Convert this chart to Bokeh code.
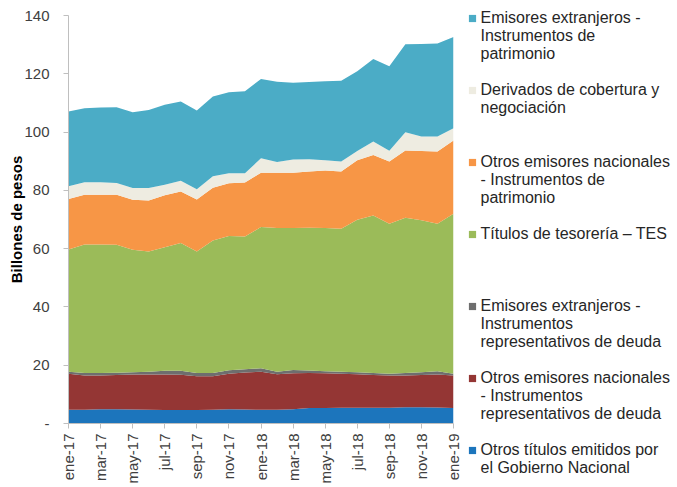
from bokeh.plotting import figure
from bokeh.models import Range1d, FixedTicker, ColumnDataSource, Legend, LegendItem
from bokeh.embed import file_html
from bokeh.resources import INLINE

months = ["ene-17", "feb-17", "mar-17", "abr-17", "may-17", "jun-17", "jul-17", "ago-17",
          "sep-17", "oct-17", "nov-17", "dic-17", "ene-18", "feb-18", "mar-18", "abr-18",
          "may-18", "jun-18", "jul-18", "ago-18", "sep-18", "oct-18", "nov-18", "dic-18", "ene-19"]

otros_titulos_gob = [4.7, 4.7, 4.9, 4.9, 4.8, 4.7, 4.6, 4.6, 4.6, 4.7, 4.9, 4.8, 4.7, 4.7, 4.9,
                     5.3, 5.3, 5.4, 5.4, 5.4, 5.4, 5.6, 5.6, 5.5, 5.3]
otros_nac_deuda = [12.4, 11.8, 11.6, 11.7, 12.0, 12.1, 12.2, 12.1, 11.6, 11.5, 12.2, 12.7, 13.1,
                   12.2, 12.3, 12.0, 11.9, 11.7, 11.5, 11.2, 11.1, 10.9, 11.0, 11.3, 11.2]
ext_deuda = [0.7, 0.8, 0.8, 0.8, 0.8, 1.0, 1.3, 1.4, 1.1, 1.1, 1.2, 1.1, 1.2, 0.9, 1.2, 0.9, 0.7,
             0.7, 0.7, 0.7, 0.6, 0.8, 1.0, 1.1, 0.6]
tes = [41.9, 44.1, 44.1, 43.9, 42.0, 41.2, 42.4, 43.8, 41.7, 45.5, 46.0, 45.6, 48.4, 49.3, 48.7,
       49.0, 49.2, 49.0, 52.3, 54.1, 51.4, 53.3, 52.1, 50.6, 54.9]
otros_nac_patr = [17.3, 17.1, 17.1, 17.2, 17.2, 17.5, 17.8, 17.7, 17.9, 18.1, 18.1, 18.5, 18.6,
                  18.9, 18.9, 19.3, 19.7, 19.7, 20.4, 20.7, 21.4, 23.1, 23.8, 24.8, 25.1]
derivados = [4.4, 4.3, 4.3, 4.0, 4.0, 4.3, 3.6, 3.7, 3.5, 3.9, 3.5, 3.2, 5.0, 3.7, 4.6, 4.2, 3.5,
             3.4, 3.2, 4.7, 3.7, 6.2, 5.0, 5.2, 4.2]
ext_patr = [25.7, 25.4, 25.6, 26.0, 26.0, 26.8, 27.5, 27.2, 27.0, 27.4, 27.8, 28.1, 27.2, 27.6,
            26.3, 26.5, 27.1, 27.7, 27.4, 28.3, 29.0, 30.2, 31.7, 31.9, 31.3]

series_keys = ["otros_titulos_gob", "otros_nac_deuda", "ext_deuda", "tes",
               "otros_nac_patr", "derivados", "ext_patr"]
series_colors = ["#1C75BC", "#943634", "#6E6E6E", "#9BBB59", "#F79646", "#EEECE1", "#4BACC6"]

legend_lines = [
    ["Emisores extranjeros -", "Instrumentos de", "patrimonio"],
    ["Derivados de cobertura y", "negociación"],
    ["Otros emisores nacionales", "- Instrumentos de", "patrimonio"],
    ["Títulos de tesorería – TES"],
    ["Emisores extranjeros -", "Instrumentos", "representativos de deuda"],
    ["Otros emisores nacionales", "- Instrumentos", "representativos de deuda"],
    ["Otros títulos emitidos por", "el Gobierno Nacional"],
]
legend_colors = ["#4BACC6", "#EEECE1", "#F79646", "#9BBB59", "#6E6E6E", "#943634", "#1C75BC"]
legend_slots = 4  # rows reserved per legend entry

y_ticks = [0, 20, 40, 60, 80, 100, 120, 140]

x = list(range(len(months)))
src = ColumnDataSource(dict(x=x, otros_titulos_gob=otros_titulos_gob, otros_nac_deuda=otros_nac_deuda,
                            ext_deuda=ext_deuda, tes=tes, otros_nac_patr=otros_nac_patr,
                            derivados=derivados, ext_patr=ext_patr))

FONT = "Liberation Sans"
TXT = "#404040"
W, H = 676, 486
FL, FR, FT, FB = 68, 453, 15, 423   # frame edges on the page
BL, BT = FL, FT
BR, BB = W - FR, H - FB

p = figure(width=W, height=H, frame_width=FR - FL, frame_height=FB - FT,
           output_backend="svg", toolbar_location=None,
           x_range=Range1d(0, len(months) - 1), y_range=Range1d(0, 140),
           min_border_left=BL, min_border_right=BR, min_border_top=BT, min_border_bottom=BB)
p.outline_line_color = None
p.xgrid.grid_line_color = None
p.ygrid.grid_line_color = None

p.varea_stack(stackers=series_keys, x="x", color=series_colors, source=src)

p.yaxis.ticker = FixedTicker(ticks=y_ticks)
p.yaxis.major_label_overrides = {0: "-"}
p.xaxis.ticker = FixedTicker(ticks=x[::2])
p.xaxis.major_label_overrides = {i: months[i] for i in x}
p.xaxis.major_label_orientation = 1.5708
for ax in (p.xaxis[0], p.yaxis[0]):
    ax.axis_line_color = "#BFBFBF"
    ax.major_tick_line_color = "#BFBFBF"
    ax.minor_tick_line_color = None
    ax.major_tick_out = 5
    ax.major_tick_in = 0
    ax.major_label_text_font = FONT
    ax.major_label_text_font_size = "15px"
    ax.major_label_text_color = TXT
p.yaxis.major_label_standoff = 14
p.xaxis.major_label_standoff = 5
p.yaxis.axis_label = "Billones de pesos"
p.yaxis.axis_label_text_font = FONT
p.yaxis.axis_label_text_font_size = "15px"
p.yaxis.axis_label_text_font_style = "bold"
p.yaxis.axis_label_text_color = "#000000"
p.yaxis.axis_label_standoff = -4

# legend: one row per text line, coloured square on the first line of each entry
nan = float("nan")
blank = p.scatter(x=[nan], y=[nan], marker="square", fill_alpha=0, line_alpha=0)
items = []
for gi, (lines, c) in enumerate(zip(legend_lines, legend_colors)):
    sq = p.scatter(x=[nan], y=[nan], marker="square", fill_color=c, line_color=None)
    for k, t in enumerate(lines):
        items.append(LegendItem(label=t, renderers=[sq if k == 0 else blank]))
    if gi < len(legend_lines) - 1:
        for _ in range(legend_slots - len(lines)):
            items.append(LegendItem(label="\u00a0", renderers=[blank]))

ROW = 18
n_rows = len(items)
legend_top = 9          # page y of the legend's top edge
glyph_left = 462.5      # page x of the legend glyph box
legend = Legend(items=items, orientation="vertical",
                location=(glyph_left - FR, FB - legend_top - n_rows * ROW),
                spacing=0, padding=0, margin=0, label_height=ROW, glyph_height=ROW, glyph_width=18,
                label_standoff=0, label_text_font=FONT, label_text_font_size="16px",
                label_text_color="#262626", label_text_baseline="middle",
                border_line_color=None, background_fill_alpha=0)
p.add_layout(legend, "right")

open("out.html", "w").write(file_html(p, INLINE))
